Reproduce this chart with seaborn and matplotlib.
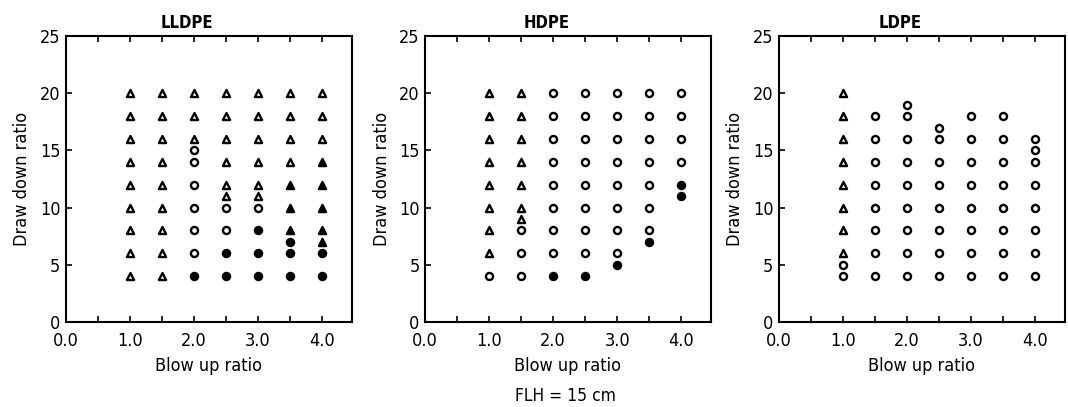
import matplotlib
matplotlib.use("Agg")
import matplotlib.pyplot as plt
import seaborn as sns
import pandas as pd
from matplotlib.ticker import MultipleLocator

# ---------------- data ----------------
panel_titles = ["LLDPE", "HDPE", "LDPE"]

# LLDPE
lldpe_x = ([1.0]*9 + [1.5]*9 +
           [2.0]*10 + [2.5]*10 + [3.0]*10 + [3.5]*10 + [4.0]*10)
lldpe_y = ([20, 18, 16, 14, 12, 10, 8, 6, 4] +
           [20, 18, 16, 14, 12, 10, 8, 6, 4] +
           [20, 18, 16, 15, 14, 12, 10, 8, 6, 4] +
           [20, 18, 16, 14, 12, 11, 10, 8, 6, 4] +
           [20, 18, 16, 14, 12, 11, 10, 8, 6, 4] +
           [20, 18, 16, 14, 12, 10, 8, 7, 6, 4] +
           [20, 18, 16, 14, 12, 10, 8, 7, 6, 4])
lldpe_kind = (["open_tri"]*9 + ["open_tri"]*9 +
              ["open_tri"]*3 + ["open_circ"]*6 + ["filled_circ"] +
              ["open_tri"]*6 + ["open_circ"]*2 + ["filled_circ"]*2 +
              ["open_tri"]*6 + ["open_circ"] + ["filled_circ"]*3 +
              ["open_tri"]*4 + ["filled_tri"]*3 + ["filled_circ"]*3 +
              ["open_tri"]*3 + ["filled_tri"]*5 + ["filled_circ"]*2)

# HDPE
hdpe_x = ([1.0]*9 + [1.5]*10 + [2.0]*9 + [2.5]*9 + [3.0]*9 + [3.5]*8 + [4.0]*6)
hdpe_y = ([20, 18, 16, 14, 12, 10, 8, 6, 4] +
          [20, 18, 16, 14, 12, 10, 9, 8, 6, 4] +
          [20, 18, 16, 14, 12, 10, 8, 6, 4] +
          [20, 18, 16, 14, 12, 10, 8, 6, 4] +
          [20, 18, 16, 14, 12, 10, 8, 6, 5] +
          [20, 18, 16, 14, 12, 10, 8, 7] +
          [20, 18, 16, 14, 12, 11])
hdpe_kind = (["open_tri"]*8 + ["open_circ"] +
             ["open_tri"]*7 + ["open_circ"]*3 +
             ["open_circ"]*8 + ["filled_circ"] +
             ["open_circ"]*8 + ["filled_circ"] +
             ["open_circ"]*8 + ["filled_circ"] +
             ["open_circ"]*7 + ["filled_circ"] +
             ["open_circ"]*4 + ["filled_circ"]*2)

# LDPE
ldpe_x = ([1.0]*10 + [1.5]*8 + [2.0]*9 + [2.5]*8 + [3.0]*8 + [3.5]*8 + [4.0]*8)
ldpe_y = ([20, 18, 16, 14, 12, 10, 8, 6, 5, 4] +
          [18, 16, 14, 12, 10, 8, 6, 4] +
          [19, 18, 16, 14, 12, 10, 8, 6, 4] +
          [17, 16, 14, 12, 10, 8, 6, 4] +
          [18, 16, 14, 12, 10, 8, 6, 4] +
          [18, 16, 14, 12, 10, 8, 6, 4] +
          [16, 15, 14, 12, 10, 8, 6, 4])
ldpe_kind = (["open_tri"]*8 + ["open_circ"]*2 +
             ["open_circ"]*8 + ["open_circ"]*9 + ["open_circ"]*8 +
             ["open_circ"]*8 + ["open_circ"]*8 + ["open_circ"]*8)

x_label = "Blow up ratio"
y_label = "Draw down ratio"
footnote = "FLH = 15 cm"
x_ticks = [0.0, 1.0, 2.0, 3.0, 4.0]
y_ticks = [0, 5, 10, 15, 20, 25]

# ---------------- style ----------------
sns.set_style("white")
plt.rcParams['font.family'] = ['DejaVu Sans']
plt.rcParams['font.stretch'] = 'condensed'
for key in ["text.color", "axes.labelcolor", "xtick.color", "ytick.color"]:
    plt.rcParams[key] = "black"

styles = {
    "open_tri":    dict(marker="^", facecolor="white", edgecolor="black"),
    "filled_tri":  dict(marker="^", facecolor="black", edgecolor="black"),
    "open_circ":   dict(marker="o", facecolor="white", edgecolor="black"),
    "filled_circ": dict(marker="o", facecolor="black", edgecolor="black"),
}

fig = plt.figure(figsize=(10.68, 4.07), dpi=100)
lefts = [0.0618, 0.398, 0.7294]
width = 0.2675
bottom, height = 0.2088, 0.7027

datasets = [(lldpe_x, lldpe_y, lldpe_kind),
            (hdpe_x, hdpe_y, hdpe_kind),
            (ldpe_x, ldpe_y, ldpe_kind)]

for i, (xs, ys, ks) in enumerate(datasets):
    ax = fig.add_axes([lefts[i], bottom, width, height])
    df = pd.DataFrame({"x": xs, "y": ys, "kind": ks})
    for kind, st in styles.items():
        sub = df[df["kind"] == kind]
        if len(sub) == 0:
            continue
        sns.scatterplot(data=sub, x="x", y="y", ax=ax, marker=st["marker"],
                        color=st["facecolor"], edgecolor=st["edgecolor"],
                        s=26, linewidth=1.7, legend=False, zorder=3)
    ax.set_xlim(0, 4.46)
    ax.set_ylim(0, 25)
    ax.set_xticks(x_ticks)
    ax.set_xticklabels([f"{v:.1f}" for v in x_ticks])
    ax.xaxis.set_minor_locator(MultipleLocator(0.5))
    ax.set_yticks(y_ticks)
    ax.tick_params(axis="x", which="both", direction="in", top=True,
                   bottom=True, length=4, width=1.2, labelsize=13, pad=7)
    ax.tick_params(axis="y", which="both", direction="in", left=True,
                   right=False, length=4, width=1.2, labelsize=13, pad=4)
    for sp in ax.spines.values():
        sp.set_visible(True)
        sp.set_color("black")
        sp.set_linewidth(1.5)
    ax.set_xlabel(x_label, fontsize=13, labelpad=5)
    ax.set_ylabel(y_label, fontsize=13, labelpad=6)
    ax.set_title(panel_titles[i], fontsize=12, fontweight="bold",
                 x=0.425, pad=6)

fig.text(0.5295, 0.027, footnote, ha="center", va="center", fontsize=12.5)

fig.savefig("out.png", dpi=100)
